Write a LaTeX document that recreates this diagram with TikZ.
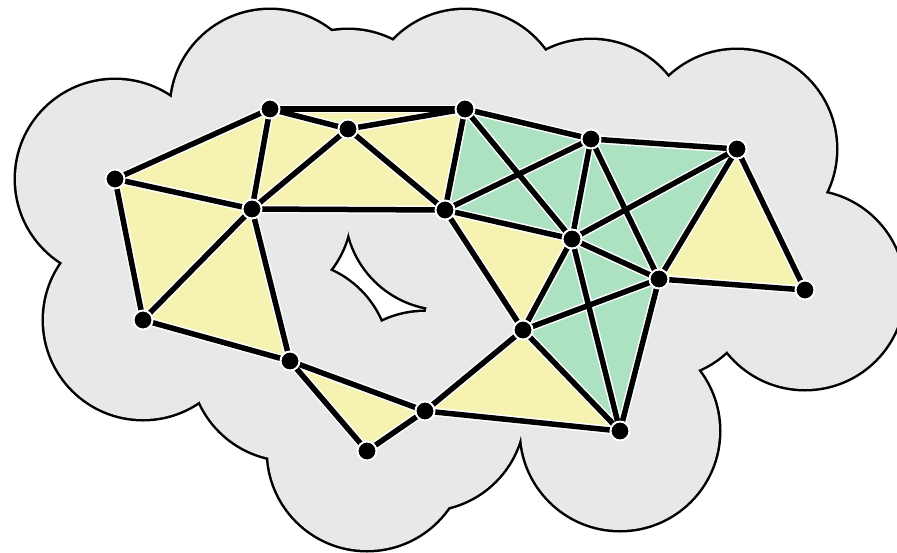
\documentclass[tikz,border=0pt]{standalone}
\usepackage{xcolor}
\definecolor{cloudgray}{RGB}{232,232,232}
\definecolor{triyellow}{RGB}{246,243,178}
\definecolor{tetgreen}{RGB}{172,225,194}
\tikzset{
  cloudline/.style={line width=5pt,draw=black},
  cloudfill/.style={fill=cloudgray},
  halo/.style={line width=8.5pt,white,line cap=round},
  edge/.style={line width=5.5pt,black,line cap=round},
  dot/.style={circle,fill=black,draw=white,line width=2pt,minimum size=19pt,inner sep=0pt},
  tri/.style={fill=triyellow},
  tet/.style={fill=tetgreen}
}
\begin{document}
\begin{tikzpicture}[x=1pt,y=-1pt]
\useasboundingbox (0,0) rectangle (897,552);
\fill[white] (0,0) rectangle (897,552);
\clip (0,0) rectangle (897,552);
\coordinate (A) at (115,179);
\coordinate (B) at (270,109);
\coordinate (C) at (348,129);
\coordinate (D) at (252,209);
\coordinate (E) at (445,210);
\coordinate (F) at (465,109);
\coordinate (G) at (591,139);
\coordinate (H) at (737,149);
\coordinate (I) at (572,239);
\coordinate (J) at (659,279);
\coordinate (K) at (805,290);
\coordinate (L) at (523,330);
\coordinate (M) at (620,431);
\coordinate (N) at (143,320);
\coordinate (O) at (290,361);
\coordinate (P) at (425,411);
\coordinate (Q) at (367,451);
% cloud: union of disks
\foreach \p in {A,B,C,D,E,F,G,H,I,J,K,L,M,N,O,P,Q}
  \draw[cloudline] (\p) circle (99pt);
\foreach \p in {A,B,C,D,E,F,G,H,I,J,K,L,M,N,O,P,Q}
  \fill[cloudfill] (\p) circle (99pt);
% yellow triangles
\foreach \a/\b/\c in {A/B/D,B/C/D,B/C/F,C/D/E,C/E/F,A/D/N,D/N/O,O/P/Q,E/I/L,L/M/P,H/J/K}
  \fill[tri] (\a) -- (\b) -- (\c) -- cycle;
% green tetrahedra
\fill[tet] (E) -- (F) -- (G) -- (I) -- cycle;
\fill[tet] (G) -- (H) -- (J) -- (I) -- cycle;
\fill[tet] (I) -- (J) -- (M) -- (L) -- cycle;
% edges
\def\edgelist{A/B,A/D,A/N,B/C,B/F,B/D,C/F,C/D,C/E,D/E,D/N,D/O,N/O,O/P,O/Q,P/Q,P/L,P/M,E/F,E/G,E/I,E/L,F/G,F/I,G/H,G/I,G/J,H/I,H/J,H/K,I/J,I/L,I/M,J/K,J/L,J/M,L/M}
\foreach \a/\b in \edgelist \draw[halo] (\a) -- (\b);
\foreach \a/\b in \edgelist \draw[edge] (\a) -- (\b);
% vertices
\foreach \p in {A,B,C,D,E,F,G,H,I,J,K,L,M,N,O,P,Q}
  \node[dot] (v\p) at (\p) {};
\end{tikzpicture}
\end{document}
